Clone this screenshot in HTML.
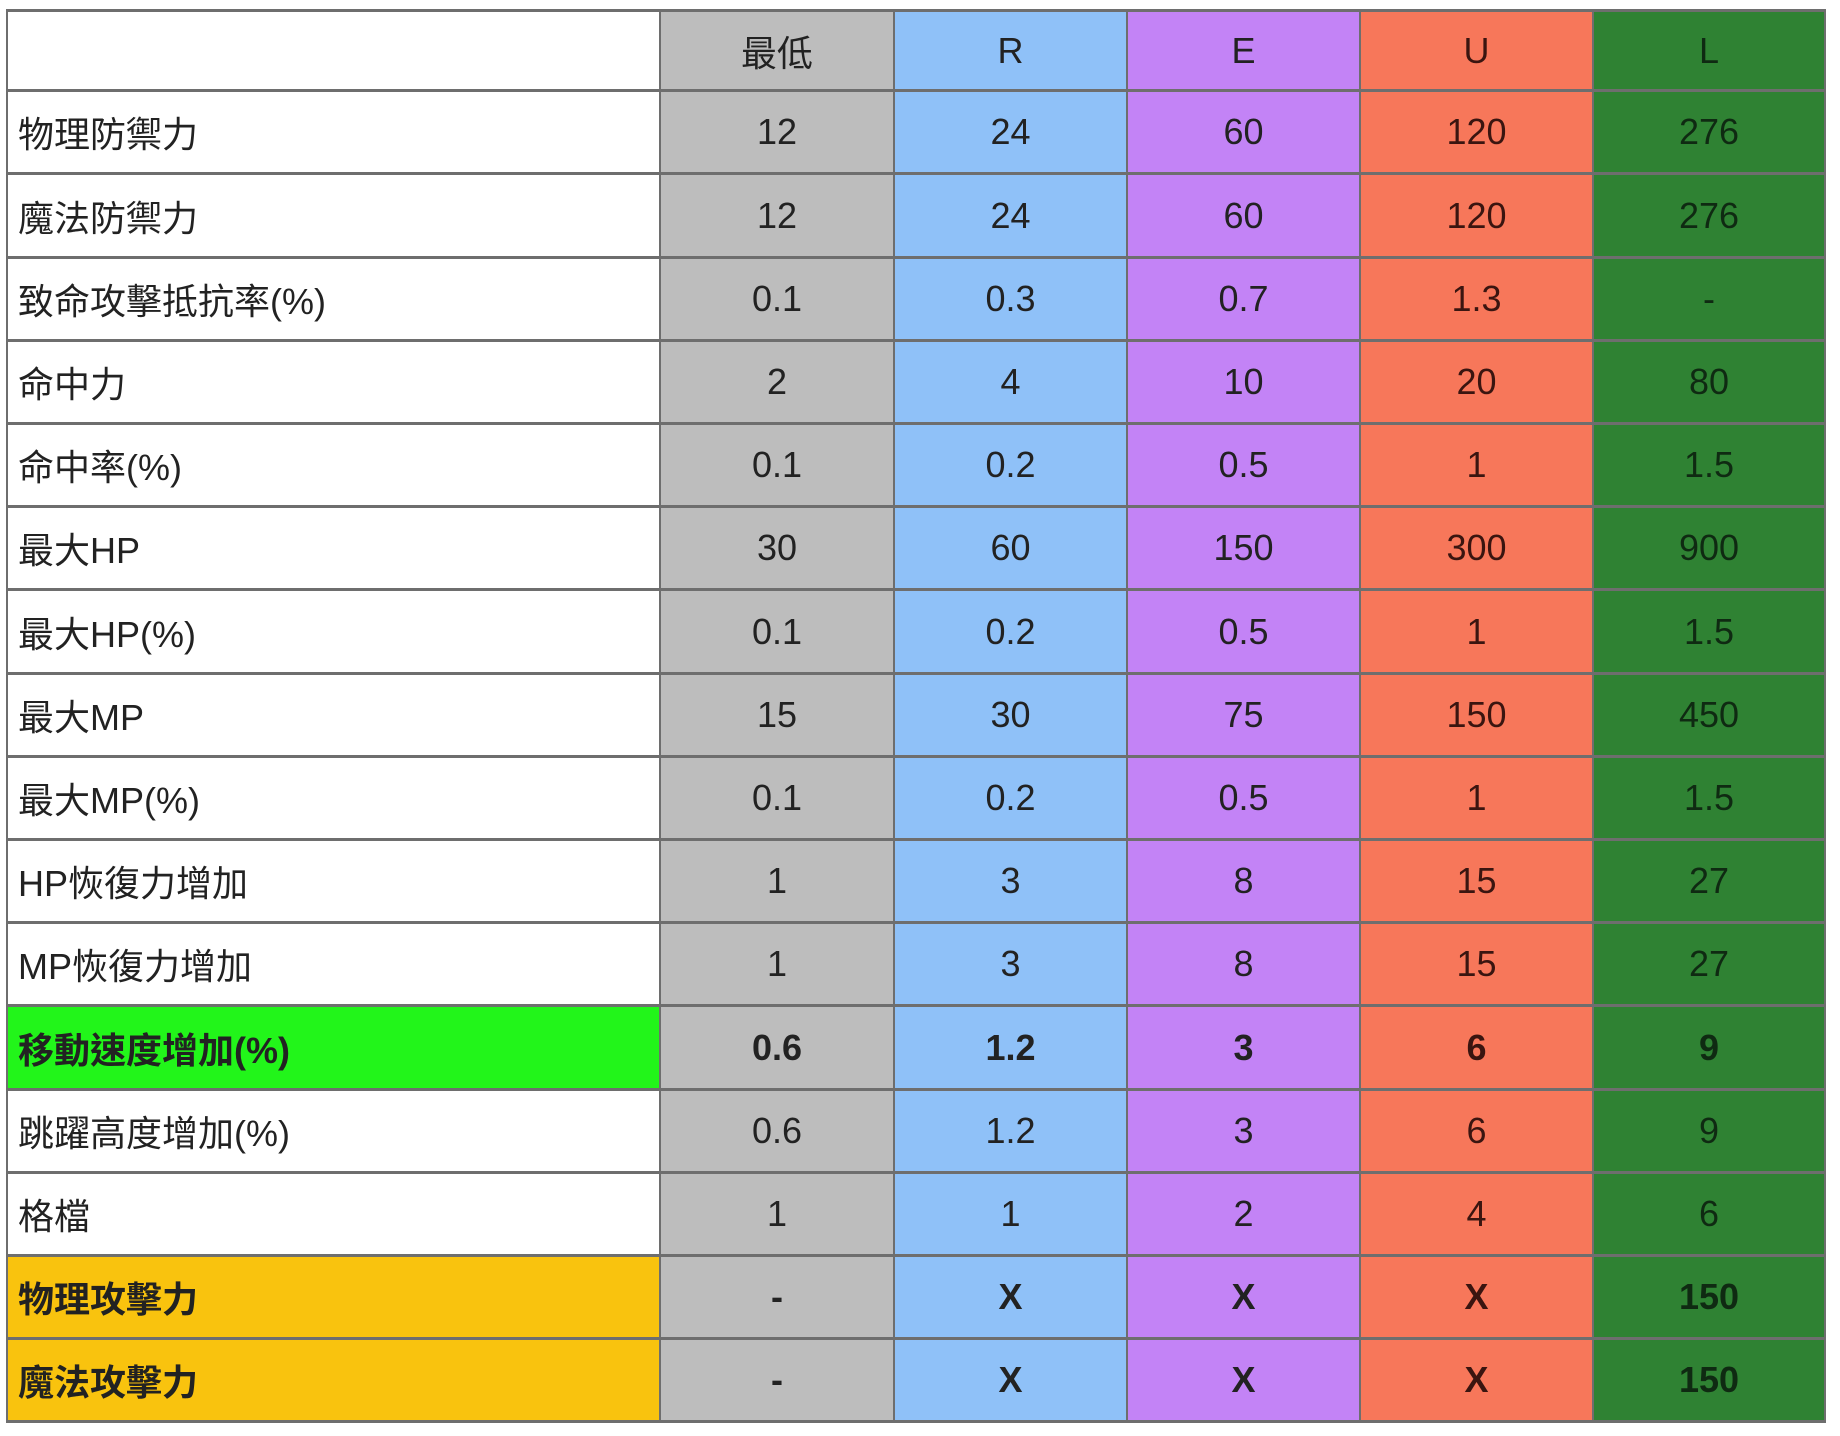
<!DOCTYPE html>
<html><head><meta charset="utf-8">
<style>
html,body{margin:0;padding:0;background:#fff;width:1840px;height:1436px;overflow:hidden;}
#tbl{position:absolute;left:0;top:0;width:1840px;height:1436px;}
.c{position:absolute;box-sizing:border-box;display:flex;align-items:center;justify-content:center;
font-family:"Liberation Sans","Noto Sans CJK TC",sans-serif;font-size:36px;color:#222;
border-right:2px solid #6e6e6e;border-bottom:3px solid #6e6e6e;}
.lbl{justify-content:flex-start;padding-left:10px;}
.b{font-weight:bold;}
</style></head><body>
<div id="tbl"></div>
<script>
const headers = ["", "最低", "R", "E", "U", "L"];
const labels = ["物理防禦力","魔法防禦力","致命攻擊抵抗率(%)","命中力","命中率(%)","最大HP","最大HP(%)","最大MP","最大MP(%)","HP恢復力增加","MP恢復力增加","移動速度增加(%)","跳躍高度增加(%)","格檔","物理攻擊力","魔法攻擊力"];
const colMin = ["12","12","0.1","2","0.1","30","0.1","15","0.1","1","1","0.6","0.6","1","-","-"];
const colR = ["24","24","0.3","4","0.2","60","0.2","30","0.2","3","3","1.2","1.2","1","X","X"];
const colE = ["60","60","0.7","10","0.5","150","0.5","75","0.5","8","8","3","3","2","X","X"];
const colU = ["120","120","1.3","20","1","300","1","150","1","15","15","6","6","4","X","X"];
const colL = ["276","276","-","80","1.5","900","1.5","450","1.5","27","27","9","9","6","150","150"];
const cols = [colMin, colR, colE, colU, colL];
const xs = [6,661,895,1128,1361,1594,1826];
const top0 = 9, rowH = 83.2;
const bg = ["#fff","#bdbdbd","#8fc1f8","#c383f6","#f7775a","#2f8233"];
const tc = ["#222","#222","#222","#222","#3a1510","#0f2a12"];
const boldRows = {11:"#22f51a",14:"#f9c30e",15:"#f9c30e"};
const root = document.getElementById('tbl');
function cell(r,c,text){
  const d=document.createElement('div');
  d.className='c'+(c===0?' lbl':'');
  d.style.left=xs[c]+'px'; d.style.width=(xs[c+1]-xs[c])+'px';
  const y=Math.round(top0+r*rowH), y2=Math.round(top0+(r+1)*rowH);
  d.style.top=y+'px'; d.style.height=(y2-y)+'px';
  let b=bg[c];
  if(c===0 && r>0 && boldRows[r-1]) b=boldRows[r-1];
  d.style.background=b; d.style.color=tc[c];
  if(c===0){d.style.borderLeft='2px solid #6e6e6e';}
  if(r===0){d.style.borderTop='3px solid #6e6e6e';}
  if(r>0 && boldRows[r-1]) d.classList.add('b');
  d.textContent=text;
  
  
  root.appendChild(d);
}
headers.forEach((h,c)=>cell(0,c,h));
labels.forEach((l,i)=>{
  cell(i+1,0,l);
  cols.forEach((col,j)=>cell(i+1,j+1,col[i]));
});
</script>
</body></html>
